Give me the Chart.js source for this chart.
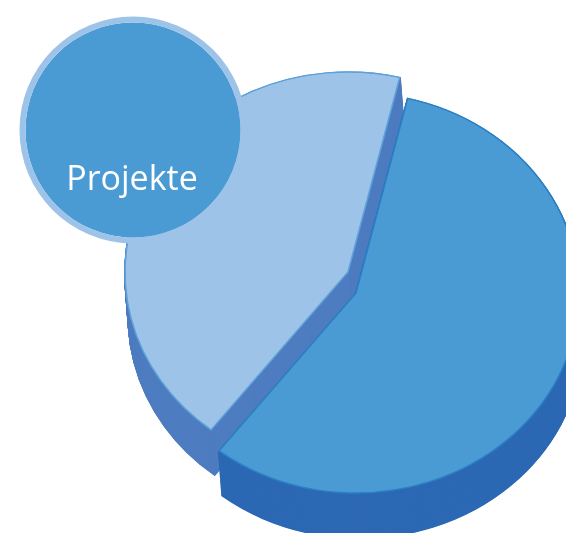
<!DOCTYPE html>
<html>
<head>
<meta charset="utf-8">
<title>Projekte</title>
<script src="https://cdn.jsdelivr.net/npm/chart.js@4"></script>
<style>
html, body { margin: 0; padding: 0; background: #fff; overflow: hidden; }
#wrap { position: relative; width: 566px; height: 533px; overflow: hidden; }
#pie { position: absolute; left: 0; top: 0; }
#bubble { position: absolute; left: 13px; top: 10px; }
</style>
</head>
<body>
<div id="wrap">
    <canvas id="pie" width="566" height="533"></canvas>
    <canvas id="bubble" width="240" height="240"></canvas>
</div>
<script>
const sliceNames = ['Teil 1', 'Teil 2'];
const sliceValues = [56.8, 43.2];
const topColors = ['#4a9ad4', '#9dc3e8'];
const edgeColors = ['#2a80c4', '#5da2da'];
const sideColors = ['#2d69b4', '#4e7cc0'];
const bubbleLabel = 'Projekte';
const bubbleValues = [1];

// Verschiebung der Segmente relativ zur Canvas-Mitte (Explosion)
const sliceShift = [{ x: 73, y: 26.5 }, { x: 65, y: 5.5 }];
const squashY = 0.897;
const depth = { x: 3.5, y: 45 };

// Zeichnet die Segmente selbst: erst die Seitenwand, dann die Oberseite
const pie3d = {
    id: 'pie3d',
    beforeDatasetsDraw(chart) {
        const ctx = chart.ctx;
        const arcs = chart.getDatasetMeta(0).data;
        [1, 0].forEach(i => {
            const arc = arcs[i];
            const own = arc.options;
            const side = Object.assign({}, own, {
                backgroundColor: sideColors[i],
                borderColor: sideColors[i],
                borderWidth: 2
            });
            const place = (dx, dy) => {
                ctx.save();
                ctx.translate(arc.x + sliceShift[i].x + dx, arc.y + sliceShift[i].y + dy);
                ctx.scale(1, squashY);
                ctx.translate(-arc.x, -arc.y);
                arc.draw(ctx);
                ctx.restore();
            };
            arc.options = side;
            for (let d = depth.y; d > 0; d -= 0.5) {
                place(depth.x * d / depth.y, d);
            }
            arc.options = own;
            place(0, 0);
        });
        return false;
    }
};

new Chart(document.getElementById('pie'), {
    type: 'pie',
    data: {
        labels: sliceNames,
        datasets: [{
            data: sliceValues,
            backgroundColor: topColors,
            borderColor: edgeColors,
            borderWidth: 1.5,
            borderJoinStyle: 'miter'
        }]
    },
    options: {
        responsive: false,
        animation: false,
        events: [],
        rotation: 13.4,
        radius: 223,
        plugins: { legend: { display: false }, tooltip: { enabled: false } }
    },
    plugins: [pie3d]
});

const bubbleText = {
    id: 'bubbleText',
    afterDatasetsDraw(chart) {
        const ctx = chart.ctx;
        ctx.save();
        ctx.fillStyle = '#ffffff';
        ctx.font = '34px "Open Sans"';
        ctx.textAlign = 'center';
        ctx.textBaseline = 'alphabetic';
        ctx.fillText(bubbleLabel, 119, 180);
        ctx.restore();
    }
};

// aussen der helle Ring, innen die Flaeche
new Chart(document.getElementById('bubble'), {
    type: 'doughnut',
    data: {
        labels: [bubbleLabel],
        datasets: [
            { data: bubbleValues, backgroundColor: '#9dc3e8', borderWidth: 0, weight: 6 },
            { data: bubbleValues, backgroundColor: '#4a9ad4', borderWidth: 0, weight: 107.5 }
        ]
    },
    options: {
        responsive: false,
        animation: false,
        events: [],
        cutout: 0,
        radius: 113.5,
        plugins: { legend: { display: false }, tooltip: { enabled: false } }
    },
    plugins: [bubbleText]
});
</script>
</body>
</html>
